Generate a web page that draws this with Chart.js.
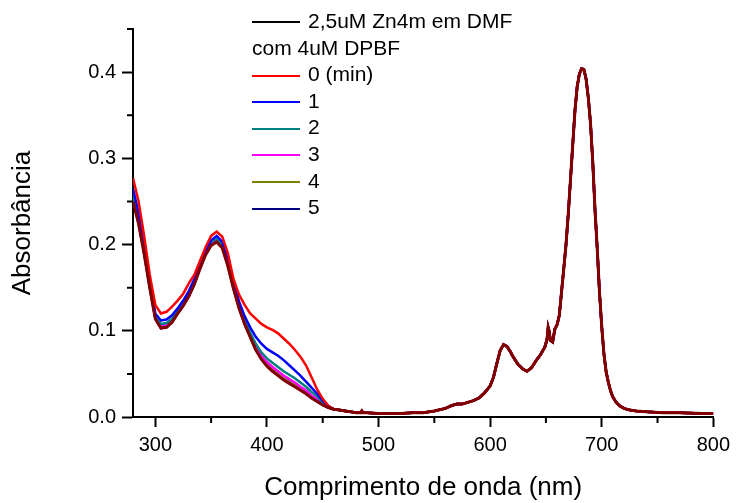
<!DOCTYPE html>
<html>
<head>
<meta charset="utf-8">
<script src="https://cdn.jsdelivr.net/npm/chart.js@4"></script>
<style>
  body { margin: 0; background: #fff; }
  #wrap { position: relative; width: 736px; height: 503px; }
  #legend { position: absolute; left: 252px; top: 8px; font: 21px Arial, "Liberation Sans", sans-serif; color: #000; }
  #legend .row { height: 26.6px; line-height: 26.6px; white-space: nowrap; }
  #legend .sw { display: inline-block; width: 48px; height: 2px; vertical-align: middle; margin-right: 8px; }
</style>
</head>
<body>
<div id="wrap">
  <canvas id="uvChart" width="736" height="503"></canvas>
  <div id="legend"></div>
</div>
<script>
// wavelengths (nm) for the Soret / DPBF region, 5 nm apart
const wlUV = [280,285,290,295,300,305,310,315,320,325,
              330,335,340,345,350,355,360,365,370,375,
              380,385,390,395,400,405,410,415,420,425,
              430,435,440,445,450,455,460];

// absorbance per time (min) in the UV region
const abs0 = [0.277,0.250,0.210,0.165,0.130,0.120,0.122,0.128,0.135,0.143,
              0.155,0.165,0.181,0.197,0.210,0.215,0.209,0.190,0.160,0.142,
              0.130,0.120,0.114,0.108,0.104,0.101,0.097,0.091,0.085,0.078,
              0.070,0.060,0.046,0.032,0.021,0.013,0.009];
const abs1 = [0.265,0.237,0.198,0.157,0.120,0.112,0.113,0.118,0.126,0.135,
              0.146,0.160,0.177,0.193,0.205,0.210,0.203,0.183,0.157,0.134,
              0.117,0.104,0.093,0.085,0.079,0.075,0.071,0.066,0.060,0.054,
              0.048,0.041,0.034,0.027,0.019,0.013,0.009];
const abs2 = [0.258,0.232,0.195,0.155,0.117,0.108,0.109,0.114,0.123,0.132,
              0.143,0.157,0.175,0.191,0.203,0.207,0.200,0.179,0.153,0.130,
              0.112,0.098,0.085,0.075,0.068,0.063,0.058,0.053,0.049,0.045,
              0.040,0.035,0.029,0.024,0.017,0.012,0.009];
const abs3 = [0.256,0.230,0.193,0.153,0.116,0.106,0.107,0.112,0.122,0.131,
              0.142,0.156,0.174,0.190,0.201,0.205,0.198,0.177,0.151,0.128,
              0.110,0.095,0.081,0.071,0.064,0.058,0.053,0.048,0.044,0.040,
              0.035,0.031,0.025,0.021,0.015,0.011,0.009];
const abs4 = [0.253,0.227,0.191,0.151,0.115,0.104,0.105,0.111,0.121,0.130,
              0.141,0.155,0.173,0.189,0.200,0.204,0.197,0.176,0.150,0.127,
              0.109,0.094,0.079,0.069,0.061,0.055,0.050,0.045,0.041,0.037,
              0.033,0.029,0.023,0.019,0.014,0.011,0.009];
const abs5 = [0.251,0.225,0.190,0.150,0.114,0.103,0.104,0.110,0.120,0.129,
              0.140,0.154,0.172,0.188,0.200,0.204,0.197,0.176,0.150,0.127,
              0.108,0.093,0.078,0.068,0.060,0.054,0.049,0.044,0.040,0.036,
              0.032,0.028,0.022,0.018,0.014,0.011,0.009];
const abs6 = [0.250,0.224,0.189,0.150,0.114,0.103,0.104,0.110,0.120,0.129,
              0.140,0.154,0.172,0.188,0.199,0.203,0.196,0.175,0.149,0.126,
              0.108,0.093,0.078,0.067,0.059,0.053,0.048,0.043,0.039,0.035,
              0.031,0.027,0.022,0.018,0.014,0.011,0.009];

// Q-band region, the same for every curve
const wlTail = [465,470,475,480,484,485,486,490,500,510,
                520,530,540,550,560,565,570,575,580,585,
                590,595,600,603,606,609,612,615,618,621,
                625,629,633,637,641,645,649,651,652,653,
                654,656,658,660,662,664,666,668,670,672,
                674,676,678,680,682,684,686,688,690,692,
                694,696,698,700,702,704,706,708,710,713,
                716,720,725,731,740,755,770,790,800];
const absTail = [0.008,0.007,0.006,0.005,0.005,0.007,0.005,0.005,0.004,0.004,
                 0.004,0.005,0.005,0.007,0.010,0.013,0.015,0.015,0.017,0.019,
                 0.022,0.028,0.036,0.046,0.062,0.077,0.084,0.082,0.076,0.069,
                 0.061,0.056,0.053,0.057,0.065,0.072,0.081,0.090,0.104,0.099,
                 0.089,0.087,0.102,0.107,0.118,0.145,0.172,0.200,0.235,0.275,
                 0.315,0.355,0.383,0.398,0.404,0.403,0.392,0.370,0.340,0.295,
                 0.240,0.195,0.145,0.105,0.073,0.052,0.040,0.030,0.023,0.017,
                 0.013,0.010,0.008,0.007,0.006,0.005,0.005,0.004,0.004];

const seriesLabels = ['0 (min)', '1', '2', '3', '4', '5'];
const seriesColors = ['#ff0000', '#0000ff', '#008080', '#ff00ff', '#808000', '#000080'];
const lastColor = '#800000';

const xTicks = [300, 400, 500, 600, 700, 800];
const xMinor = [350, 450, 550, 650, 750];
const yTicks = [0, 0.1, 0.2, 0.3, 0.4];
const yMinor = [0.05, 0.15, 0.25, 0.35, 0.45];

function toPoints(uv) {
    const wl = wlUV.concat(wlTail);
    const a = uv.concat(absTail);
    return wl.map((w, i) => ({ x: w, y: a[i] }));
}

const uvSeries = [abs0, abs1, abs2, abs3, abs4, abs5];

// dark red curve first so it's drawn on top
const datasets = [{
    label: '6',
    data: toPoints(abs6),
    borderColor: lastColor,
    borderWidth: 3
}];
uvSeries.forEach((s, i) => {
    datasets.push({
        label: seriesLabels[i],
        data: toPoints(s),
        borderColor: seriesColors[i],
        borderWidth: 2.5
    });
});

// legend as html
const legend = document.getElementById('legend');
let html = '<div class="row"><span class="sw" style="background:#000"></span>2,5uM Zn4m em DMF</div>';
html += '<div class="row">com 4uM DPBF</div>';
seriesLabels.forEach((l, i) => {
    html += '<div class="row"><span class="sw" style="background:' + seriesColors[i] + '"></span>' + l + '</div>';
});
legend.innerHTML = html;

// short minor ticks outside the axes
const minorTicks = {
    id: 'minorTicks',
    afterDraw(chart) {
        const ctx = chart.ctx;
        const area = chart.chartArea;
        ctx.save();
        ctx.strokeStyle = '#000';
        ctx.lineWidth = 2;
        ctx.beginPath();
        xMinor.forEach(v => {
            const px = chart.scales.x.getPixelForValue(v);
            ctx.moveTo(px, area.bottom);
            ctx.lineTo(px, area.bottom + 6);
        });
        yMinor.forEach(v => {
            const py = chart.scales.y.getPixelForValue(v);
            ctx.moveTo(area.left, py);
            ctx.lineTo(area.left - 6, py);
        });
        ctx.stroke();
        ctx.restore();
    }
};

const font = 'Arial, "Liberation Sans", sans-serif';

new Chart(document.getElementById('uvChart'), {
    type: 'line',
    data: { datasets: datasets },
    plugins: [minorTicks],
    options: {
        responsive: false,
        animation: false,
        devicePixelRatio: 1,
        layout: { padding: { top: 29, right: 17, left: 0, bottom: 0 } },
        elements: { point: { radius: 0 }, line: { tension: 0 } },
        plugins: { legend: { display: false }, tooltip: { enabled: false } },
        scales: {
            x: {
                type: 'linear',
                min: 280,
                max: 800,
                afterBuildTicks: s => { s.ticks = xTicks.map(v => ({ value: v })); },
                afterFit: s => { s.height = 86; },
                grid: { drawOnChartArea: false, tickLength: 10, tickColor: '#000', tickWidth: 2 },
                border: { color: '#000', width: 2 },
                ticks: { color: '#000', padding: 6, font: { family: font, size: 20 }, maxRotation: 0 },
                title: {
                    display: true,
                    text: 'Comprimento de onda (nm)',
                    color: '#000',
                    font: { family: font, size: 26 },
                    padding: { top: 0, bottom: 0 }
                }
            },
            y: {
                min: 0,
                max: 0.45,
                afterBuildTicks: s => { s.ticks = yTicks.map(v => ({ value: v })); },
                afterFit: s => { s.width = 133; },
                grid: { drawOnChartArea: false, tickLength: 11, tickColor: '#000', tickWidth: 2 },
                border: { color: '#000', width: 2 },
                ticks: {
                    color: '#000',
                    padding: 6,
                    font: { family: font, size: 20 },
                    callback: v => v.toFixed(1)
                },
                title: {
                    display: true,
                    text: 'Absorbância',
                    color: '#000',
                    font: { family: font, size: 26 },
                    padding: { top: 7, bottom: 0 }
                }
            }
        }
    }
});
</script>
</body>
</html>
